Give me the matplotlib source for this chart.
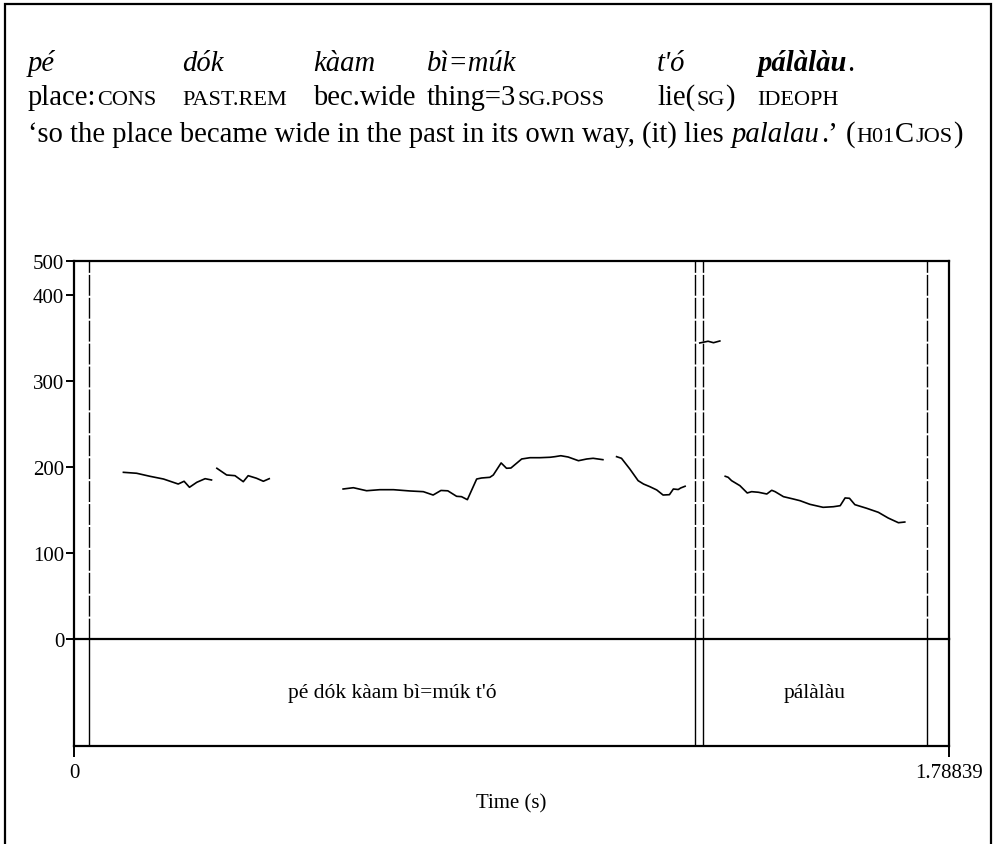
import numpy as np
import matplotlib
matplotlib.use("Agg")
import matplotlib.pyplot as plt
from matplotlib.transforms import IdentityTransform
from matplotlib.patches import Rectangle

# ---------------------------------------------------------------- data
duration = 1.78839

# F0 contour pieces (time in s, F0 in Hz); gaps are unvoiced stretches
seg1_t = [0.101, 0.128, 0.155, 0.183, 0.213, 0.225, 0.236, 0.251, 0.268, 0.281]
seg1_f0 = [193.8, 192.7, 189.2, 186.0, 180.2, 183.4, 176.4, 182.2, 186.4, 184.9]

seg2_t = [0.292, 0.312, 0.329, 0.346, 0.356, 0.373, 0.387, 0.399]
seg2_f0 = [198.5, 190.7, 189.9, 182.9, 189.9, 186.9, 183.4, 186.4]

seg3_t = [0.550, 0.571, 0.598, 0.625, 0.653, 0.687, 0.714, 0.734, 0.750, 0.764,
          0.782, 0.792, 0.804, 0.823, 0.833, 0.850, 0.857, 0.873, 0.884, 0.893,
          0.915, 0.932, 0.952, 0.973, 0.983, 0.995, 1.010, 1.031, 1.048, 1.061,
          1.081]
seg3_f0 = [174.4, 175.9, 172.4, 173.6, 173.6, 172.1, 171.3, 167.4, 172.7, 172.3,
           165.9, 165.5, 162.0, 186.0, 187.2, 188.0, 190.7, 204.7, 198.5, 198.8,
           209.3, 210.8, 210.8, 211.3, 212.0, 213.1, 211.6, 207.3, 209.3, 210.1,
           208.5]

seg4_t = [1.109, 1.119, 1.136, 1.153, 1.164, 1.177, 1.191, 1.204, 1.217, 1.225,
          1.235, 1.240, 1.249]
seg4_f0 = [212.0, 210.1, 197.7, 184.1, 180.2, 177.1, 173.3, 167.4, 167.8, 174.4,
           173.8, 175.6, 177.6]

seg5_t = [1.279, 1.296, 1.307, 1.320]
seg5_f0 = [344.2, 346.2, 344.5, 346.5]

seg6_t = [1.331, 1.337, 1.344, 1.361, 1.376, 1.385, 1.399, 1.416, 1.426, 1.433,
          1.450, 1.470, 1.484, 1.504, 1.531, 1.552, 1.566, 1.576, 1.585, 1.596,
          1.620, 1.644, 1.664, 1.685, 1.698]
seg6_f0 = [189.2, 188.0, 184.1, 178.3, 169.8, 171.3, 170.6, 168.6, 172.9, 171.3,
           165.5, 162.8, 160.8, 156.6, 153.1, 153.8, 155.0, 164.0, 163.6, 156.2,
           152.0, 147.3, 140.7, 135.2, 136.0]

segments = [(seg1_t, seg1_f0), (seg2_t, seg2_f0), (seg3_t, seg3_f0),
            (seg4_t, seg4_f0), (seg5_t, seg5_f0), (seg6_t, seg6_f0)]

# TextGrid tier: interval boundaries and labels
boundaries = [0.0307, 1.2690, 1.2855, 1.7430]
interval_starts = [0.0307, 1.2855]
interval_ends = [1.2690, 1.7430]
interval_labels = ["pé dók kàam bì=múk t'ó", "pálàlàu"]

y_ticks = [0, 100, 200, 300, 400, 500]
y_tick_labels = ["0", "100", "200", "300", "400", "500"]
x_ticks = [0, duration]
x_tick_labels = ["0", "1.78839"]

# ---------------------------------------------------------------- figure
W, H, DPI = 996, 845, 100
SERIF = "Liberation Serif"
plt.rcParams["font.family"] = [SERIF, "DejaVu Serif"]

fig = plt.figure(figsize=(W / DPI, H / DPI), dpi=DPI)
fig.patch.set_facecolor("white")

# outer frame (top, left and right edges; bottom runs off the page)
fig.add_artist(Rectangle((5 / W, -0.05), 986 / W, 1 - 5 / H + 0.05,
                         transform=fig.transFigure, fill=False,
                         edgecolor="black", lw=1.6))

x_left, x_right = 74, 949
y_top, y_mid, y_bot = 262, 640, 747


def frac_box(l, r, t, b):
    return [l / W, 1 - b / H, (r - l) / W, (b - t) / H]


ax = fig.add_axes(frac_box(x_left, x_right, y_top, y_mid))
tier = fig.add_axes(frac_box(x_left, x_right, y_mid, y_bot), sharex=ax)


# linear up to 400 Hz, compressed band above it
def fwd(v):
    v = np.asarray(v, dtype=float)
    return np.where(v <= 400, v, 400 + (v - 400) * 0.395)


def inv(u):
    u = np.asarray(u, dtype=float)
    return np.where(u <= 400, u, 400 + (u - 400) / 0.395)


ax.set_yscale("function", functions=(fwd, inv))
ax.set_ylim(0, 500)
ax.set_xlim(0, duration)

for t, f0 in segments:
    ax.plot(t, f0, color="black", lw=1.2, solid_joinstyle="round")

for b in boundaries:
    ax.axvline(b, color="black", lw=1.0, dashes=(15, 1.5))
    tier.axvline(b, color="black", lw=1.0)

ax.set_yticks(y_ticks)
ax.set_yticklabels(y_tick_labels)
ax.tick_params(axis="y", direction="out", length=6, width=1.4, pad=1,
               labelsize=15)
ax.tick_params(axis="x", bottom=False, labelbottom=False)
ax.spines["bottom"].set_visible(False)
for s in ["left", "top", "right"]:
    ax.spines[s].set_linewidth(1.6)

tier.set_ylim(0, 1)
tier.set_yticks([])
tier.set_xticks(x_ticks)
tier.set_xticklabels(x_tick_labels)
tier.tick_params(axis="x", direction="out", length=8, width=1.4, pad=4,
                 labelsize=15)
for s in tier.spines.values():
    s.set_linewidth(1.6)
tier.set_xlabel("Time (s)", fontsize=15, labelpad=8)

for s0, s1, lab in zip(interval_starts, interval_ends, interval_labels):
    tier.text((s0 + s1) / 2, 0.5, lab, ha="center", va="center", fontsize=15.5)

# ---------------------------------------------------------------- gloss lines
renderer = fig.canvas.get_renderer()
FS = 20.6
SC = 0.78
SPACE = FS * DPI / 72 * 0.25


def style_of(kind):
    if kind == "i":
        return dict(fontsize=FS, fontstyle="italic")
    if kind == "bi":
        return dict(fontsize=FS, fontstyle="italic", fontweight="bold")
    if kind == "sc":
        return dict(fontsize=FS * SC)
    return dict(fontsize=FS)


def run(x, y, pieces):
    for txt, kind in pieces:
        if txt == " ":
            x += SPACE
            continue
        t = fig.text(x, H - y, txt, transform=IdentityTransform(),
                     ha="left", va="baseline", family=SERIF, **style_of(kind))
        x += t.get_window_extent(renderer).width + 1
    return x


cols = [28, 182, 313, 427, 657, 757]
line1 = [[("pé", "i")], [("dók", "i")], [("kàam", "i")], [("bì=múk", "i")],
         [("t'ó", "i")], [("pálàlàu", "bi"), (".", "r")]]
line2 = [[("place:", "r"), ("CONS", "sc")], [("PAST.REM", "sc")],
         [("bec.wide", "r")], [("thing=3", "r"), ("SG.POSS", "sc")],
         [("lie(", "r"), ("SG", "sc"), (")", "r")], [("IDEOPH", "sc")]]
for x, p in zip(cols, line1):
    run(x, 71, p)
for x, p in zip(cols, line2):
    run(x, 105, p)

line3 = [("‘so the place became wide in the past in its own way, (it) lies", "r"),
         (" ", ""), ("palalau", "i"), (".’", "r"), (" ", ""), ("(", "r"),
         ("H01", "sc"), ("C", "r"), ("JOS", "sc"), (")", "r")]
run(28, 142, line3)

fig.savefig("out.png", dpi=DPI, facecolor="white")
